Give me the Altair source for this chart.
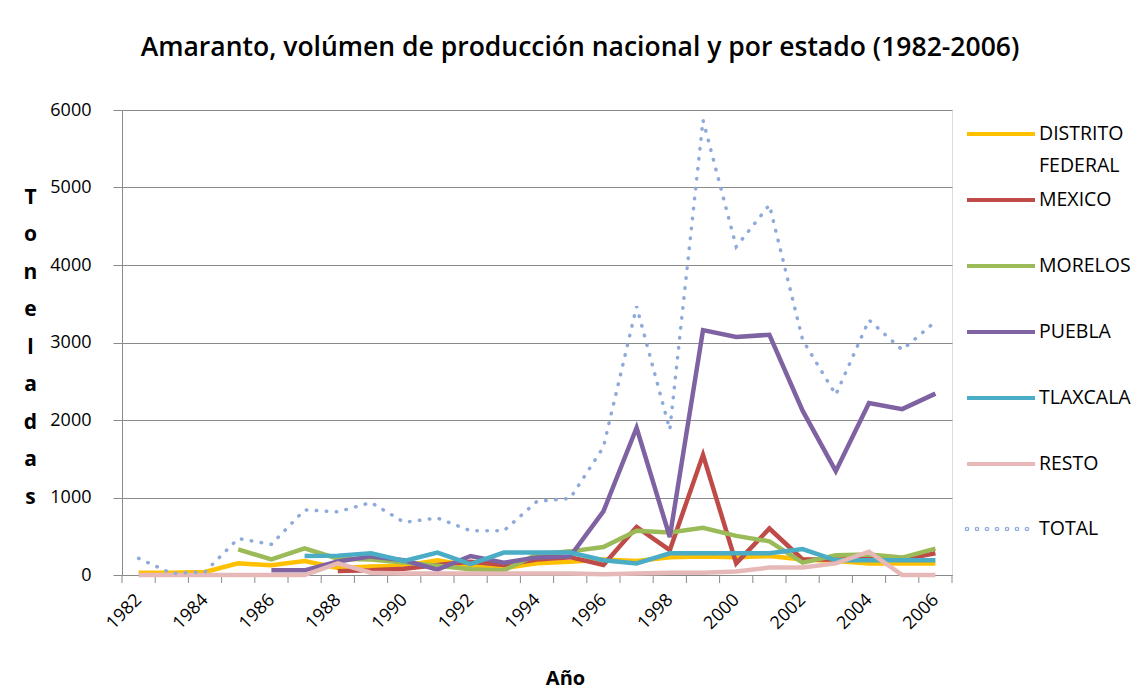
import altair as alt
import pandas as pd

years = list(range(1982, 2007))
series = ["DISTRITO FEDERAL", "MEXICO", "MORELOS", "PUEBLA", "TLAXCALA", "RESTO"]
colors = ["#FFC000", "#BE4B48", "#9BBB59", "#7F62A1", "#4AACC5", "#E6B9B8"]

N = None
distrito_federal = [30, 30, 40, 150, 125, 180, 90, 110, 120, 190, 120, 90, 150, 170, 200, 180, 230, 240, 230, 245, 200, 180, 150, 150, 150]
mexico = [N, N, N, N, N, N, 50, 60, 80, 130, 170, 130, 200, 230, 130, 620, 320, 1550, 150, 600, 200, 200, 210, 200, 280]
morelos = [N, N, N, 330, 200, 345, 210, 200, 160, 120, 75, 60, 265, 305, 360, 570, 550, 610, 505, 435, 160, 255, 265, 225, 340]
puebla = [N, N, N, N, 60, 60, 175, 240, 190, 70, 245, 160, 225, 240, 820, 1900, 490, 3160, 3070, 3100, 2120, 1340, 2220, 2140, 2340]
tlaxcala = [N, N, N, N, N, 246, 250, 280, 180, 290, 140, 290, 290, 290, 190, 150, 280, 280, 280, 280, 335, 190, 190, 190, 190]
resto = [0, 0, 0, 0, 0, 0, 150, 30, 20, 20, 20, 20, 20, 20, 10, 20, 30, 30, 45, 96, 96, 150, 300, 0, 0]
total = [215, 20, 40, 470, 395, 840, 815, 935, 680, 735, 570, 570, 950, 990, 1650, 3465, 1875, 5870, 4235, 4775, 3035, 2325, 3290, 2905, 3270]

y_ticks = [0, 1000, 2000, 3000, 4000, 5000, 6000]
x_labels = years[::2]

rows = []
for name, vals in zip(series, [distrito_federal, mexico, morelos, puebla, tlaxcala, resto]):
    for yr, v in zip(years, vals):
        if v is not None:
            rows.append({"anio": yr, "toneladas": v, "serie": name})
states_df = pd.DataFrame(rows)
total_df = pd.DataFrame({"anio": years, "toneladas": total, "tipo": ["TOTAL"] * len(years)})
bounds_df = pd.DataFrame({"b": [yr - 0.5 for yr in years] + [years[-1] + 0.5]})

FONT = "Open Sans"
GRAY = "#8a8a8a"

xscale = alt.Scale(domain=[years[0] - 0.5, years[-1] + 0.5], nice=False, zero=False)
yscale = alt.Scale(domain=[0, 6000], nice=False)

xaxis = alt.Axis(values=x_labels, format="d", labelAngle=-45, labelAlign="right",
                 labelBaseline="middle", labelPadding=22, ticks=False, tickSize=0,
                 grid=False, domainColor=GRAY, labelFont=FONT, labelFontSize=18,
                 labelColor="#000", title="Año", titleFont=FONT, titleFontSize=20,
                 titleFontWeight="bold", titleColor="#000", titleX=443, titleY=103,
                 titleBaseline="middle", titleAnchor="start", titleAlign="center")
yaxis = alt.Axis(values=y_ticks, format="d", grid=True, gridColor=GRAY, tickSize=9,
                 tickColor=GRAY, domainColor=GRAY, labelPadding=22, labelFont=FONT,
                 labelFontSize=18, labelColor="#000",
                 title=["T", "o", "n", "e", "l", "a", "d", "a", "s"], titleAngle=0,
                 titleAlign="center", titleBaseline="middle", titleX=-92, titleY=87,
                 titleLineHeight=37.5, titleFont=FONT, titleFontSize=21,
                 titleFontWeight="bold", titleColor="#000")

ticks = alt.Chart(bounds_df).mark_rule(color=GRAY, strokeWidth=1).encode(
    x=alt.X("b:Q", scale=xscale, axis=xaxis),
    y=alt.value(465), y2=alt.value(473),
)

line_path = "M-3.4,0H3.4"
dot_path = "".join(
    f"M{cx - 0.06:.2f},0a0.06,0.06 0 1,0 0.12,0a0.06,0.06 0 1,0 -0.12,0"
    for cx in [-3.4, -2.4, -1.4, -0.4, 0.6, 1.6, 2.6]
)

states = alt.Chart(states_df).mark_line(strokeWidth=4.5, strokeJoin="miter", strokeCap="butt").encode(
    x=alt.X("anio:Q", scale=xscale, axis=xaxis),
    y=alt.Y("toneladas:Q", scale=yscale, axis=yaxis),
    color=alt.Color("serie:N", scale=alt.Scale(domain=series, range=colors),
                    legend=alt.Legend(orient="none", legendX=867, legendY=12, title=None,
                                      symbolType=line_path, symbolSize=400, symbolStrokeWidth=4,
                                      labelOffset=26, labelFont=FONT, labelFontSize=19.5,
                                      labelColor="#000", labelLimit=400, rowPadding=12,
                                      padding=0,
                                      labelExpr="datum.label == 'DISTRITO FEDERAL' ? ['DISTRITO', 'FEDERAL'] : [datum.label, ' ']")),
)

total_line = alt.Chart(total_df).mark_line(strokeWidth=3.5, strokeDash=[0.5, 9.5], strokeCap="round",
                                            color="#8EAADB").encode(
    x=alt.X("anio:Q", scale=xscale, axis=xaxis),
    y=alt.Y("toneladas:Q", scale=yscale, axis=yaxis),
    opacity=alt.Opacity("tipo:N", scale=alt.Scale(domain=["TOTAL"], range=[1]),
                        legend=alt.Legend(orient="none", legendX=867, legendY=407, title=None,
                                          symbolType=dot_path, symbolSize=400,
                                          symbolStrokeWidth=3.5, symbolStrokeColor="#8EAADB",
                                          symbolFillColor="#8EAADB",
                                          labelOffset=26, labelFont=FONT, labelFontSize=19.5,
                                          labelColor="#000", padding=0)),
)

chart = alt.layer(ticks, states, total_line).properties(
    width=830, height=465,
    padding={"left": 114, "top": 102, "right": 188, "bottom": 115},
    autosize=alt.AutoSizeParams(type="none"),
    title=alt.TitleParams("Amaranto, volúmen de producción nacional y por estado (1982-2006)",
                          font=FONT, fontSize=26.5, fontWeight=600, color="#000",
                          anchor="middle", dx=43, offset=40),
).configure_view(stroke=None).configure(
    background="white", style={"guide-label": {"lineHeight": 32}}
)

chart.save("out.html", embed_options={"renderer": "svg", "actions": False})
